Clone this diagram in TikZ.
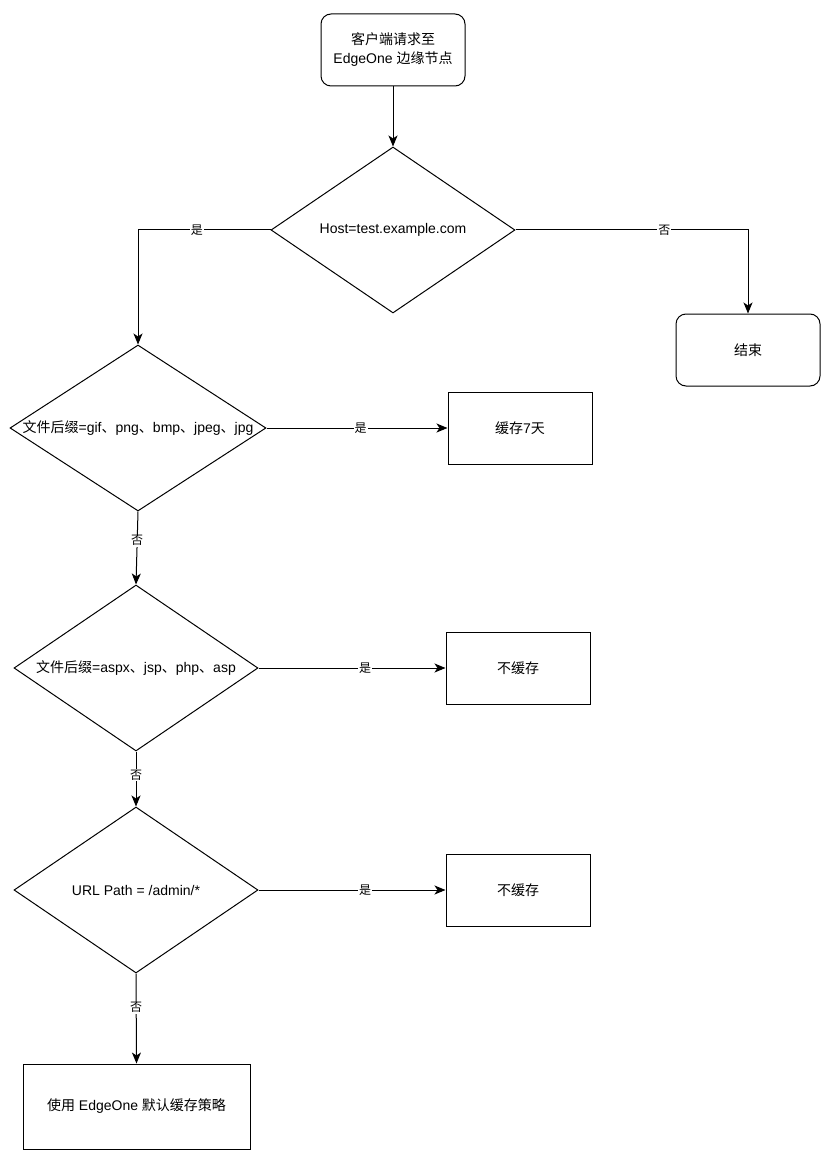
\documentclass[tikz,border=0pt]{standalone}
\usepackage{fontspec}
\setmainfont{Liberation Sans}
\newfontfamily\cjk{Noto Sans CJK SC}
\usetikzlibrary{shapes.geometric,arrows.meta}
\begin{document}
\begin{tikzpicture}[x=1pt,y=-1pt,
  every node/.style={font=\fontsize{14}{19}\selectfont},
  rbox/.style={draw,line width=1pt,rounded corners=10pt,minimum width=144pt,minimum height=72pt,inner sep=0pt,align=center},
  sbox/.style={draw,line width=1pt,minimum width=144pt,minimum height=72pt,inner sep=0pt,align=center},
  dia/.style={draw,line width=1pt,diamond,inner sep=0pt,minimum width=#1,minimum height=166pt},
  conn/.style={line width=1pt,-{Stealth[length=11pt,width=9pt,inset=3pt]}},
  elab/.style={fill=white,inner sep=1pt,font=\fontsize{12}{14}\selectfont\cjk}]
\useasboundingbox[fill=white] (0,0) rectangle (828,1166);

\node[rbox] (start) at (393,50) {{\cjk 客户端请求至}\\EdgeOne {\cjk 边缘节点}};
\node[dia=244pt] (d1) at (393,230) {\makebox[0pt]{Host=test.example.com}};
\node[rbox] (end) at (748,350) {\cjk 结束};
\node[dia=256pt] (d2) at (138,428) {\makebox[0pt]{{\cjk 文件后缀}=gif{\cjk 、}png{\cjk 、}bmp{\cjk 、}jpeg{\cjk 、}jpg}};
\node[sbox] (c7) at (520,428) {{\cjk 缓存}7{\cjk 天}};
\node[dia=244pt] (d3) at (136,668) {\makebox[0pt]{{\cjk 文件后缀}=aspx{\cjk 、}jsp{\cjk 、}php{\cjk 、}asp}};
\node[sbox] (nc1) at (518,668) {\cjk 不缓存};
\node[dia=244pt] (d4) at (136,890) {\makebox[0pt]{URL Path = /admin/*}};
\node[sbox] (nc2) at (518,890) {\cjk 不缓存};
\node[sbox,minimum width=227pt,minimum height=85pt] (def) at (136.5,1106.5) {{\cjk 使用} EdgeOne {\cjk 默认缓存策略}};

\draw[conn] (start) -- (d1);
\draw[conn] (d1.west) -| node[elab,pos=0.278] {是} (d2.north);
\draw[conn] (d1.east) -| node[elab,pos=0.32] {否} (end.north);
\draw[conn] (d2.east) -- node[elab,pos=0.52] {是} (c7.west);
\draw[conn] (d2.south) -- node[elab,pos=0.4] {否} (d3.north);
\draw[conn] (d3.east) -- node[elab,pos=0.57] {是} (nc1.west);
\draw[conn] (d3.south) -- node[elab,pos=0.43] {否} (d4.north);
\draw[conn] (d4.east) -- node[elab,pos=0.57] {是} (nc2.west);
\draw[conn] (d4.south) -- node[elab,pos=0.38] {否} (def.north);
\end{tikzpicture}
\end{document}
